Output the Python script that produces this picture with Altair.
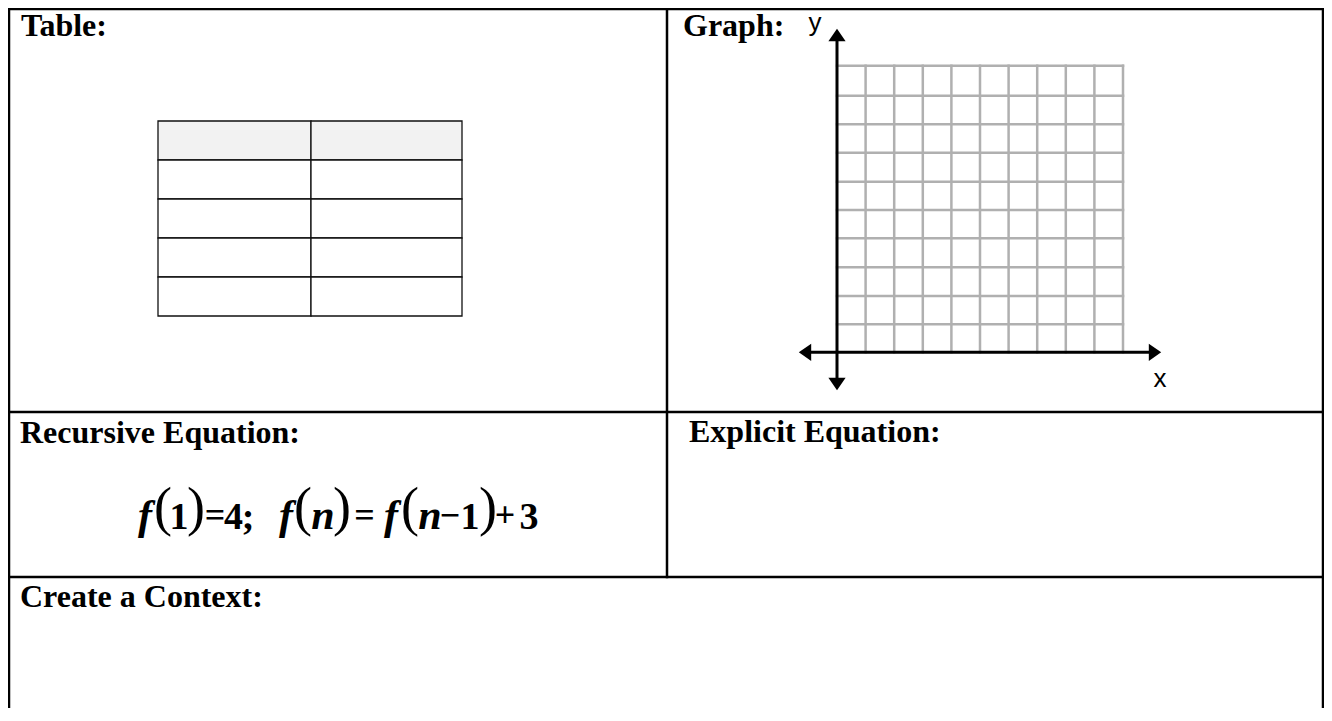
import altair as alt
import pandas as pd

# ---- canvas (screen pixel coordinates of the 1332x721 page) ----
W, H = 1316, 700
XDOM = [8, 8 + W]
YDOM = [8, 8 + H]

# ---- worksheet frame lines: (x, x2, y, y2) ----
frame_x1 = [9, 9, 9, 9, 1323, 667]
frame_x2 = [1323, 1323, 1323, 9, 1323, 667]
frame_y1 = [9, 412, 577, 9, 9, 9]
frame_y2 = [9, 412, 577, 708, 708, 577]

# ---- headings ----
head_text = ["Table:", "Graph:", "Recursive Equation:", "Explicit Equation:", "Create a Context:"]
head_x = [21, 683, 20, 689, 20]
head_y = [36, 36, 443, 442, 607]

# ---- blank table (2 columns x 5 rows, first row shaded) ----
tbl_cols = [158, 311, 462]
tbl_rows = [121, 160, 199, 238, 277, 316]
tbl_header_fill = "#f2f2f2"

# ---- graph grid ----
grid_x = [837, 865.6, 894.2, 922.8, 951.4, 980, 1008.6, 1037.2, 1065.8, 1094.4, 1123]
grid_y = [65.7, 95.7, 124.3, 152.7, 181.7, 210, 238.3, 267.3, 296, 324.3, 352.3]

# ---- coordinate axes with arrows ----
axis_x1 = [805, 837]
axis_x2 = [1155, 837]
axis_y1 = [352.3, 35]
axis_y2 = [352.3, 384]
arrow_x = [837, 837, 805, 1155]
arrow_y = [35, 384, 352.3, 352.3]
arrow_angle = [0, 180, 270, 90]
axis_label = ["y", "x"]
axis_label_x = [815, 1160]
axis_label_y = [31, 387]

# ---- recursive equation pieces ----
eq_italic = ["f", "f", "n", "f", "n"]
eq_italic_x = [145, 286, 323, 391, 430]
eq_digit = ["1", "4", ";", "1", "3"]
eq_digit_x = [179, 233.5, 248, 470, 529]
eq_op = ["=", "=", "\u2212", "+"]
eq_op_x = [215, 364.5, 450, 505]
eq_paren = ["(", ")", "(", ")", "(", ")"]
eq_paren_x = [163, 196, 303, 342, 410, 488]
eq_base = 529
eq_op_base = 527
eq_paren_base = 525

# ---------------------------------------------------------------
xs = alt.Scale(domain=XDOM, nice=False, zero=False)
ys = alt.Scale(domain=YDOM, nice=False, zero=False, reverse=True)

def X(f="x"):
    return alt.X(f"{f}:Q", scale=xs, axis=None)

def Y(f="y"):
    return alt.Y(f"{f}:Q", scale=ys, axis=None)

def txt(xv, yv, tv, **kw):
    base = dict(align="center", baseline="alphabetic", color="black", font="Liberation Serif")
    base.update(kw)
    return alt.Chart(pd.DataFrame(dict(x=xv, y=yv, t=tv))).mark_text(**base).encode(
        x=X(), y=Y(), text="t:N"
    )

# table cells
cells = []
for i in range(len(tbl_rows) - 1):
    for j in range(len(tbl_cols) - 1):
        cells.append(dict(x=tbl_cols[j], x2=tbl_cols[j + 1], y=tbl_rows[i], y2=tbl_rows[i + 1],
                          fill=tbl_header_fill if i == 0 else "#ffffff"))
table = alt.Chart(pd.DataFrame(cells)).mark_rect(stroke="#111111", strokeWidth=1.3).encode(
    x=X(), x2="x2:Q", y=Y(), y2="y2:Q", fill=alt.Fill("fill:N", scale=None)
)

# grid
grid_rows = [dict(x=gx, x2=gx, y=grid_y[0], y2=grid_y[-1]) for gx in grid_x[1:]]
grid_rows += [dict(x=grid_x[0], x2=grid_x[-1], y=gy, y2=gy) for gy in grid_y[:-1]]
grid = alt.Chart(pd.DataFrame(grid_rows)).mark_rule(color="#b0b0b0", strokeWidth=2.5, strokeCap="square").encode(
    x=X(), x2="x2:Q", y=Y(), y2="y2:Q"
)

axes = alt.Chart(pd.DataFrame(dict(x=axis_x1, x2=axis_x2, y=axis_y1, y2=axis_y2))).mark_rule(
    color="black", strokeWidth=3
).encode(x=X(), x2="x2:Q", y=Y(), y2="y2:Q")

arrow_path = "M0,-0.62 L0.86,0.62 L-0.86,0.62 Z"
arrows = alt.Chart(pd.DataFrame(dict(x=arrow_x, y=arrow_y, a=arrow_angle))).mark_point(
    shape=arrow_path, filled=True, color="black", opacity=1, size=400, strokeWidth=0
).encode(x=X(), y=Y(), angle=alt.Angle("a:Q", scale=None))

axis_labels = txt(axis_label_x, axis_label_y, axis_label, font="Liberation Sans", fontSize=26)

frame = alt.Chart(pd.DataFrame(dict(x=frame_x1, x2=frame_x2, y=frame_y1, y2=frame_y2))).mark_rule(
    color="black", strokeWidth=2.5, strokeCap="square"
).encode(x=X(), x2="x2:Q", y=Y(), y2="y2:Q")

heads = txt(head_x, head_y, head_text, fontWeight="bold", fontSize=32, align="left")

eq_i = txt(eq_italic_x, [eq_base] * len(eq_italic), eq_italic,
           fontWeight="bold", fontStyle="italic", fontSize=42)
eq_d = txt(eq_digit_x, [eq_base] * len(eq_digit), eq_digit, fontWeight="bold", fontSize=38)
eq_o = txt(eq_op_x, [eq_op_base] * len(eq_op), eq_op, fontWeight="bold", fontSize=36)
eq_p = txt(eq_paren_x, [eq_paren_base] * len(eq_paren), eq_paren, fontSize=54)

chart = alt.layer(
    table, grid, axes, arrows, axis_labels, frame, heads, eq_i, eq_d, eq_o, eq_p
).properties(
    width=W, height=H, padding=0, autosize=alt.AutoSizeParams(type="none"), background="white"
).configure_view(stroke=None)

chart.save("out.html", embed_options={"renderer": "svg", "actions": False})
